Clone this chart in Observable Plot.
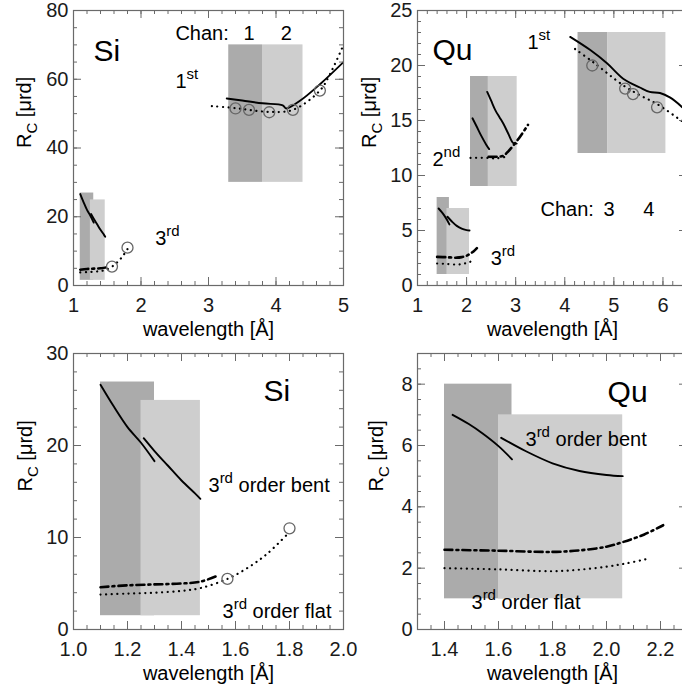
<!DOCTYPE html>
<html><head><meta charset="utf-8">
<script src="https://cdn.jsdelivr.net/npm/d3@7"></script>
<script src="https://cdn.jsdelivr.net/npm/@observablehq/plot@0.6"></script>
<style>
body{margin:0;background:#fff}
#fig{position:relative;width:682px;height:687px;overflow:hidden;background:#fff}
#fig svg{position:absolute}
</style></head><body><div id="fig"></div>
<script>
// ===== DATA (wavelength [Å], R_C [µrd]) =====
// Si crystal, 3rd order
const si3BentCh1 = [[1.10,26.6],[1.15,24.2],[1.20,22.0],[1.25,20.3],[1.30,18.3]];
const si3BentCh2 = [[1.26,20.8],[1.30,19.4],[1.35,17.8],[1.40,16.2],[1.45,14.8],[1.47,14.2]];
const si3Flat    = [[1.10,4.6],[1.20,4.8],[1.30,4.9],[1.40,5.0],[1.47,5.2],[1.53,5.8]];
const si3Meas    = [[1.10,3.8],[1.20,3.9],[1.30,4.0],[1.40,4.2],[1.47,4.5],[1.57,5.5],[1.65,6.8],[1.72,8.3],[1.80,10.6]];
const si3Points  = [[1.57,5.5],[1.80,11.0]];
const si3Chans   = [[1.10,1.30,1.5,26.9,"dark"],[1.25,1.47,1.5,24.9,"light"]];
// Si crystal, 1st order
const si1Bent    = [[3.27,54.4],[3.50,53.8],[3.80,53.0],[4.10,52.4],[4.15,51.5],[4.36,53.8],[4.66,58.7],[5.00,65.0]];
const si1Meas    = [[3.05,52.2],[3.40,51.6],[3.60,51.1],[3.90,50.5],[4.25,51.1],[4.65,56.7],[4.80,61.5],[5.00,70.0]];
const si1Points  = [[3.40,51.5],[3.60,51.1],[3.90,50.4],[4.25,51.1],[4.65,56.7]];
const si1Chans   = [[3.30,3.80,30,70,"dark"],[3.80,4.40,30,70,"light"]];
// Quartz crystal, 3rd order
const qu3BentCh1 = [[1.43,7.0],[1.49,6.7],[1.54,6.4],[1.60,5.98],[1.65,5.55]];
const qu3BentCh2 = [[1.61,6.25],[1.70,5.82],[1.80,5.42],[1.90,5.17],[2.00,5.04],[2.06,5.0]];
const qu3Flat    = [[1.40,2.6],[1.60,2.57],[1.80,2.53],[1.90,2.58],[2.00,2.7],[2.06,2.85],[2.14,3.1],[2.21,3.4]];
const qu3Meas    = [[1.40,2.0],[1.60,1.96],[1.80,1.9],[1.90,1.95],[2.00,2.05],[2.07,2.15],[2.15,2.3]];
const qu3Chans   = [[1.40,1.65,1,8,"dark"],[1.60,2.06,1,7,"light"]];
// Quartz crystal, 2nd order
const qu2BentCh1 = [[2.12,15.2],[2.20,14.5],[2.30,13.6],[2.40,12.8],[2.46,12.4]];
const qu2BentCh2 = [[2.42,17.6],[2.50,16.8],[2.59,15.9],[2.67,15.3],[2.75,14.7],[2.85,13.8],[2.95,12.95],[3.02,12.9]];
const qu2Flat    = [[2.45,11.7],[2.60,11.7],[2.75,11.8],[2.85,12.2],[3.00,13.0],[3.10,13.6],[3.25,14.6]];
const qu2Meas    = [[2.08,11.6],[2.40,11.6],[2.60,11.55],[2.80,11.7]];
const qu2Chans   = [[2.08,2.45,9,19,"dark"],[2.44,3.03,9,19,"light"]];
// Quartz crystal, 1st order
const qu1Bent    = [[4.11,22.6],[4.52,21.4],[4.86,20.2],[5.19,18.8],[5.53,18.0],[5.73,17.6],[5.94,17.5],[6.14,17.1],[6.37,16.3],[6.50,15.7]];
const qu1Meas    = [[4.21,21.5],[4.58,20.3],[5.19,18.2],[5.53,17.3],[5.88,16.5],[6.37,15.0],[6.50,14.6]];
const qu1Points  = [[4.56,20.0],[5.23,17.9],[5.39,17.4],[5.88,16.2]];
const qu1Chans   = [[4.27,4.88,12,23,"dark"],[4.88,6.06,12,23,"light"]];

// Tick labels
const xTicksTopSi = [1,2,3,4,5];
const xTicksTopQu = [1,2,3,4,5,6];
const yTicksTopSi = [0,20,40,60,80];
const yTicksTopQu = [0,5,10,15,20,25];
const xTicksBotSi = [1.0,1.2,1.4,1.6,1.8,2.0];
const xTicksBotQu = [1.4,1.6,1.8,2.0,2.2];
const yTicksBotSi = [0,10,20,30];
const yTicksBotQu = [0,2,4,6,8];

// Annotations: [text, x, y, kind]
const labTopSi = [["Si",1.296,65.4,"big"],["Chan:",2.51,71.5,"n"],["1",3.52,71.5,"n"],["2",4.07,71.5,"n"],
                  ["1^{st}",2.51,57.5,"n"],["3^{rd}",2.21,11.8,"n"]];
const labTopQu = [["Qu",1.305,20.5,"big"],["1^{st}",3.24,21.5,"n"],["2^{nd}",1.305,10.9,"n"],["3^{rd}",2.49,1.82,"n"],
                  ["Chan:",3.505,6.36,"n"],["3",4.79,6.36,"n"],["4",5.60,6.36,"n"]];
const labBotSi = [["Si",1.704,24.8,"big"],["3^{rd} order bent",1.50,14.9,"n"],["3^{rd} order flat",1.552,1.3,"n"]];
const labBotQu = [["Qu",2.004,7.43,"big"],["3^{rd} order bent",1.70,6.0,"n"],["3^{rd} order flat",1.50,0.68,"n"]];

// ===== DRAWING =====
const SHADE = {dark:"#ababab", light:"#cecece"};
const FRAME = "#6a6a6a";
const FONT = "'Liberation Sans', Arial, Helvetica, sans-serif";

function steps(lo, hi, step){
  return d3.range(Math.round(lo/step), Math.round(hi/step)+1).map(i => +(i*step).toFixed(4));
}

function enrich(svg){
  svg.querySelectorAll("text").forEach(el => {
    const s = el.textContent;
    if (!/[\^_]\{/.test(s)) return;
    el.textContent = "";
    const re = /([\^_])\{([^}]*)\}/g;
    let last = 0, m, cur = 0;
    const add = (txt, dy, small) => {
      const t = document.createElementNS("http://www.w3.org/2000/svg","tspan");
      t.textContent = txt;
      if (dy) t.setAttribute("dy", dy);
      if (small) t.setAttribute("font-size", small);
      el.appendChild(t);
    };
    while ((m = re.exec(s))) {
      if (m.index > last) { add(s.slice(last, m.index), -cur); cur = 0; }
      const target = m[1] === "^" ? -9 : 6;
      add(m[2], target - cur, 15);
      cur = target;
      last = re.lastIndex;
    }
    if (last < s.length) add(s.slice(last), -cur);
  });
}

function panel(c){
  const iw = c.width - c.mL - c.mR, ih = c.height - c.mT - c.mB;
  const L = (data, st) => Plot.line(data, {x: d=>d[0], y: d=>d[1], stroke:"#000", curve:"catmull-rom", clip:true, ...st});
  const solid = {strokeWidth:1.9};
  const dashdot = {strokeWidth:2.6, strokeDasharray:"8 4 2 4"};
  const dotted = {strokeWidth:2.2, strokeDasharray:"0.1 5.5", strokeLinecap:"round"};
  const marks = [];
  for (const b of c.boxes) marks.push(Plot.rect(b, {x1:d=>d[0], x2:d=>d[1], y1:d=>d[2], y2:d=>d[3], fill:d=>SHADE[d[4]]}));
  for (const s of c.solids) marks.push(L(s, solid));
  for (const s of c.dashdots) marks.push(L(s, dashdot));
  for (const s of c.dotteds) marks.push(L(s, dotted));
  for (const p of c.points) marks.push(Plot.dot(p, {x:d=>d[0], y:d=>d[1], r:5.5, stroke:"#666", strokeWidth:1.3, fill:"none"}));
  marks.push(Plot.text(c.labels, {x:d=>d[1], y:d=>d[2], text:d=>d[0], textAnchor:"start", lineAnchor:"bottom",
    fontSize:d=>d[3]==="big"?30:20, fill:"#000"}));
  const xMin = steps(c.xDomain[0], c.xDomain[1], c.xMinor), yMin = steps(c.yDomain[0], c.yDomain[1], c.yMinor);
  const tk = {stroke:FRAME, strokeWidth:1};
  marks.push(
    Plot.tickX(xMin, {x:d=>d, insetTop: ih-4, ...tk}),
    Plot.tickX(xMin, {x:d=>d, insetBottom: ih-4, ...tk}),
    Plot.tickX(c.xTicks, {x:d=>d, insetTop: ih-8, ...tk}),
    Plot.tickX(c.xTicks, {x:d=>d, insetBottom: ih-8, ...tk}),
    Plot.tickY(yMin, {y:d=>d, insetRight: iw-4, ...tk}),
    Plot.tickY(yMin, {y:d=>d, insetLeft: iw-4, ...tk}),
    Plot.tickY(c.yTicks, {y:d=>d, insetRight: iw-8, ...tk}),
    Plot.tickY(c.yTicks, {y:d=>d, insetLeft: iw-8, ...tk}),
    Plot.frame({stroke:FRAME, strokeWidth:1.2}),
    Plot.axisX(c.xTicks, {anchor:"bottom", tickSize:0, tickPadding:12, tickFormat:c.xFmt, label:null, fill:"#1a1a1a"}),
    Plot.axisY(c.yTicks, {anchor:"left", tickSize:0, tickPadding:5, tickFormat:d=>String(d), label:null, fill:"#1a1a1a"}),
    Plot.text(["wavelength [Å]"], {frameAnchor:"bottom", lineAnchor:"bottom", dy:50, text:d=>d, fontSize:20, fill:"#000"}),
    Plot.text(["R_{C} [μrd]"], {frameAnchor:"left", rotate:-90, dx:c.yLabDx, text:d=>d, fontSize:20, fill:"#000"})
  );
  const svg = Plot.plot({
    width:c.width, height:c.height, marginLeft:c.mL, marginRight:c.mR, marginTop:c.mT, marginBottom:c.mB,
    x:{domain:c.xDomain, axis:null}, y:{domain:c.yDomain, axis:null}, color:{type:"identity"},
    style:{background:"transparent", fontFamily:FONT, fontSize:"20px", overflow:"visible", maxWidth:"none", color:"#000"},
    marks
  });
  enrich(svg);
  svg.style.left = c.left + "px";
  svg.style.top = c.top + "px";
  document.getElementById("fig").appendChild(svg);
}

const fmt1 = d => d.toFixed(1);

panel({left:0, top:0, width:350, height:345, mL:73, mR:7, mT:10, mB:60,
  xDomain:[1,5], yDomain:[0,80], xTicks:xTicksTopSi, yTicks:yTicksTopSi, xMinor:0.2, yMinor:5, xFmt:d=>String(d), yLabDx:-49,
  boxes:[si3Chans, si1Chans], solids:[si3BentCh1, si3BentCh2, si1Bent], dashdots:[si3Flat], dotteds:[si3Meas, si1Meas],
  points:[si3Points, si1Points], labels:labTopSi});

panel({left:345, top:0, width:349, height:345, mL:72, mR:7, mT:10, mB:60,
  xDomain:[1,6.5], yDomain:[0,25], xTicks:xTicksTopQu, yTicks:yTicksTopQu, xMinor:0.2, yMinor:1, xFmt:d=>String(d), yLabDx:-48,
  boxes:[qu3Chans, qu2Chans, qu1Chans], solids:[qu3BentCh1, qu3BentCh2, qu2BentCh1, qu2BentCh2, qu1Bent],
  dashdots:[qu3Flat, qu2Flat], dotteds:[qu3Meas, qu2Meas, qu1Meas], points:[qu1Points], labels:labTopQu});

panel({left:0, top:340, width:350, height:347, mL:73, mR:7, mT:13, mB:58,
  xDomain:[1.0,2.0], yDomain:[0,30], xTicks:xTicksBotSi, yTicks:yTicksBotSi, xMinor:0.05, yMinor:2, xFmt:fmt1, yLabDx:-48,
  boxes:[si3Chans], solids:[si3BentCh1, si3BentCh2], dashdots:[si3Flat], dotteds:[si3Meas],
  points:[si3Points], labels:labBotSi});

panel({left:345, top:340, width:349, height:347, mL:72, mR:7, mT:13, mB:58,
  xDomain:[1.3,2.3], yDomain:[0,9], xTicks:xTicksBotQu, yTicks:yTicksBotQu, xMinor:0.05, yMinor:0.5, xFmt:fmt1, yLabDx:-41,
  boxes:[qu3Chans], solids:[qu3BentCh1, qu3BentCh2], dashdots:[qu3Flat], dotteds:[qu3Meas],
  points:[], labels:labBotQu});
</script></body></html>
